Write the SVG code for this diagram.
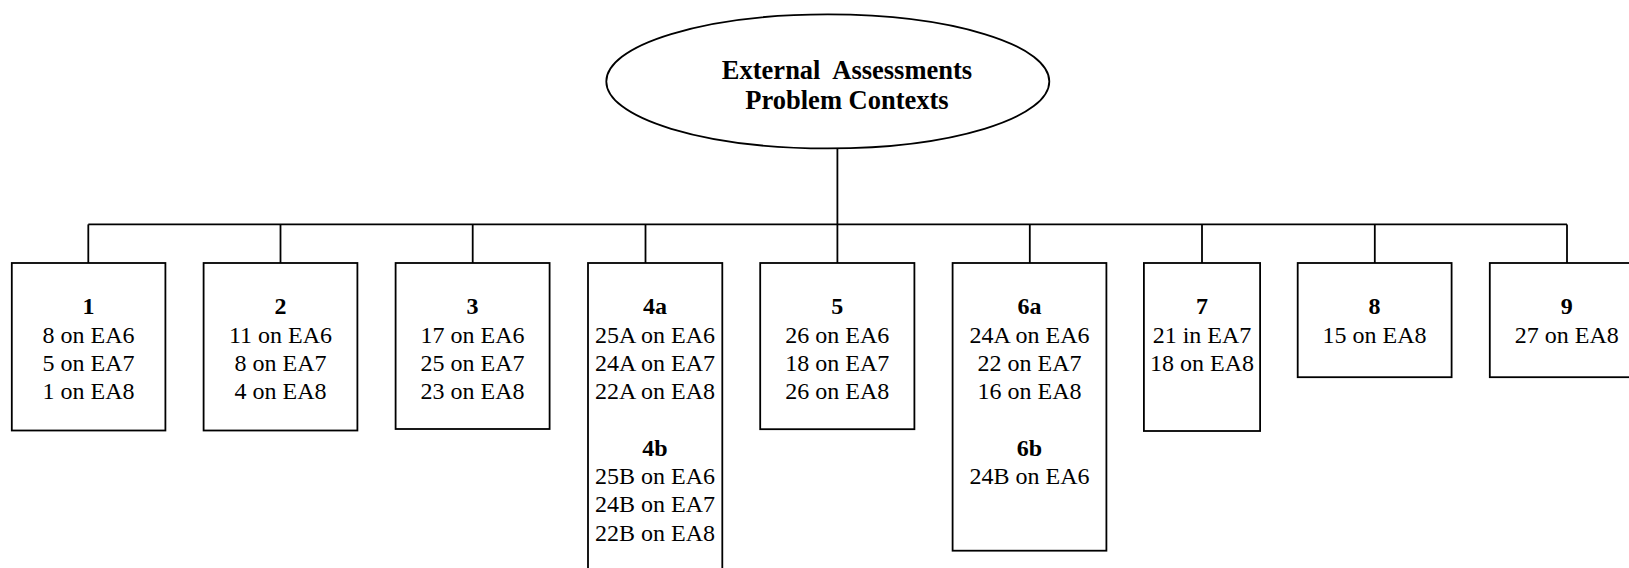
<svg xmlns="http://www.w3.org/2000/svg" width="1629" height="568" viewBox="0 0 1629 568">
<style>
.bg{fill:#fff}
.box{fill:#fff;stroke:#000;stroke-width:1.8}
.ln{fill:none;stroke:#000;stroke-width:1.8}
.t{font-family:"Liberation Serif","Times New Roman",serif;font-size:24px;fill:#000;text-anchor:middle}
.h{font-weight:bold}
.title{font-family:"Liberation Serif","Times New Roman",serif;font-size:26.5px;font-weight:bold;fill:#000;text-anchor:middle;white-space:pre}
</style>
<rect class="bg" x="0" y="0" width="1629" height="568"/>
<g id="connectors">
<line class="ln" x1="837.4" y1="148.5" x2="837.4" y2="224.4"/>
<line class="ln" x1="88.3" y1="224.4" x2="1567" y2="224.4"/>
<line class="ln" x1="88.3" y1="224.4" x2="88.3" y2="263"/>
<line class="ln" x1="280.5" y1="224.4" x2="280.5" y2="263"/>
<line class="ln" x1="472.7" y1="224.4" x2="472.7" y2="263"/>
<line class="ln" x1="645.5" y1="224.4" x2="645.5" y2="263"/>
<line class="ln" x1="837.4" y1="224.4" x2="837.4" y2="263"/>
<line class="ln" x1="1029.8" y1="224.4" x2="1029.8" y2="263"/>
<line class="ln" x1="1202" y1="224.4" x2="1202" y2="263"/>
<line class="ln" x1="1374.8" y1="224.4" x2="1374.8" y2="263"/>
<line class="ln" x1="1567" y1="224.4" x2="1567" y2="263"/>
</g>
<g id="root">
<ellipse class="box" cx="827.8" cy="81.4" rx="221.5" ry="67"/>
<text class="title" x="847" y="79" xml:space="preserve">External  Assessments</text>
<text class="title" x="847" y="108.5">Problem Contexts</text>
</g>
<g id="n1">
<rect class="box" x="11.8" y="263" width="153.6" height="167.5"/>
<text class="t h" x="88.6" y="314.3">1</text>
<text class="t" x="88.6" y="342.6">8 on EA6</text>
<text class="t" x="88.6" y="370.9">5 on EA7</text>
<text class="t" x="88.6" y="399.2">1 on EA8</text>
</g>
<g id="n2">
<rect class="box" x="203.6" y="263" width="153.8" height="167.5"/>
<text class="t h" x="280.5" y="314.3">2</text>
<text class="t" x="280.5" y="342.6">11 on EA6</text>
<text class="t" x="280.5" y="370.9">8 on EA7</text>
<text class="t" x="280.5" y="399.2">4 on EA8</text>
</g>
<g id="n3">
<rect class="box" x="395.6" y="263" width="154" height="166"/>
<text class="t h" x="472.6" y="314.3">3</text>
<text class="t" x="472.6" y="342.6">17 on EA6</text>
<text class="t" x="472.6" y="370.9">25 on EA7</text>
<text class="t" x="472.6" y="399.2">23 on EA8</text>
</g>
<g id="n4">
<rect class="box" x="588" y="263" width="134.3" height="320"/>
<text class="t h" x="655" y="314.3">4a</text>
<text class="t" x="655" y="342.6">25A on EA6</text>
<text class="t" x="655" y="370.9">24A on EA7</text>
<text class="t" x="655" y="399.2">22A on EA8</text>
<text class="t h" x="655" y="455.8">4b</text>
<text class="t" x="655" y="484.1">25B on EA6</text>
<text class="t" x="655" y="512.4">24B on EA7</text>
<text class="t" x="655" y="540.7">22B on EA8</text>
</g>
<g id="n5">
<rect class="box" x="760.2" y="263" width="154.2" height="166.2"/>
<text class="t h" x="837.3" y="314.3">5</text>
<text class="t" x="837.3" y="342.6">26 on EA6</text>
<text class="t" x="837.3" y="370.9">18 on EA7</text>
<text class="t" x="837.3" y="399.2">26 on EA8</text>
</g>
<g id="n6">
<rect class="box" x="952.6" y="263" width="153.8" height="287.7"/>
<text class="t h" x="1029.5" y="314.3">6a</text>
<text class="t" x="1029.5" y="342.6">24A on EA6</text>
<text class="t" x="1029.5" y="370.9">22 on EA7</text>
<text class="t" x="1029.5" y="399.2">16 on EA8</text>
<text class="t h" x="1029.5" y="455.8">6b</text>
<text class="t" x="1029.5" y="484.1">24B on EA6</text>
</g>
<g id="n7">
<rect class="box" x="1143.9" y="263" width="116.2" height="168"/>
<text class="t h" x="1202" y="314.3">7</text>
<text class="t" x="1202" y="342.6">21 in EA7</text>
<text class="t" x="1202" y="370.9">18 on EA8</text>
</g>
<g id="n8">
<rect class="box" x="1297.7" y="263" width="153.9" height="114.2"/>
<text class="t h" x="1374.6" y="314.3">8</text>
<text class="t" x="1374.6" y="342.6">15 on EA8</text>
</g>
<g id="n9">
<rect class="box" x="1489.8" y="263" width="154" height="114.2"/>
<text class="t h" x="1566.8" y="314.3">9</text>
<text class="t" x="1566.8" y="342.6">27 on EA8</text>
</g>
</svg>
